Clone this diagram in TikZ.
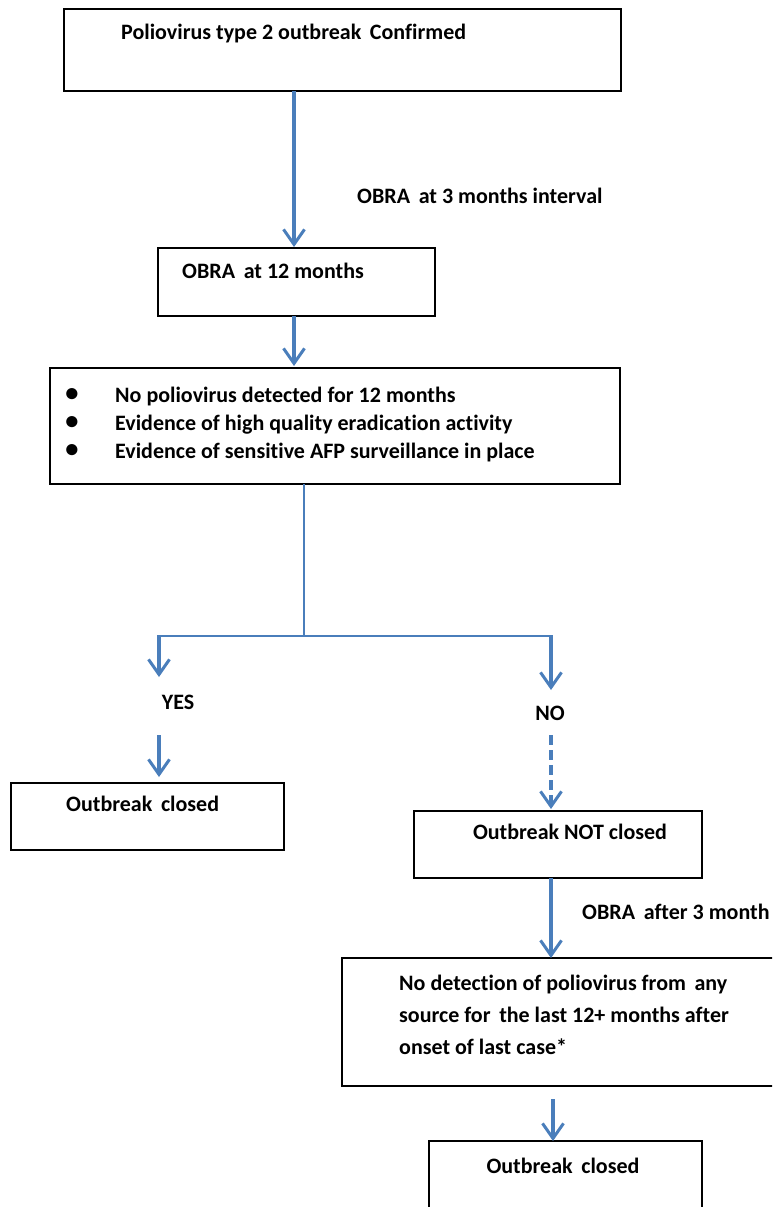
\documentclass[tikz,border=0pt]{standalone}
\usepackage{fontspec}
\setmainfont{Carlito}[Ligatures=NoCommon]
\usetikzlibrary{arrows.meta}
\definecolor{flowblue}{HTML}{4A7EBB}
% keeps "t" and "i" as separate glyphs
\newcommand{\tisplit}{\kern0pt{}}
\begin{document}
\begin{tikzpicture}[x=1pt,y=-1pt,
  box/.style={draw=black, line width=1.5pt, inner sep=0pt, outer sep=0pt, anchor=north west},
  txt/.style={font=\fontsize{22}{26}\selectfont\bfseries, inner sep=0pt, anchor=base west},
  arr/.style={draw=flowblue, line width=3.2pt, -{Straight Barb[length=15pt,width=21pt,line width=3pt]}},
  dasharr/.style={arr, dash pattern=on 10pt off 5pt},
  branch/.style={draw=flowblue, line width=2.2pt},
  stem/.style={draw=flowblue, line width=1.6pt},
]
\useasboundingbox (0,0) rectangle (772,1207);
\clip (0,0) rectangle (772,1207);

% boxes
\node[box, minimum width=557pt, minimum height=82pt] (confirmed) at (64,9) {};
\node[box, minimum width=277pt, minimum height=68pt] (obra12) at (158,248) {};
\node[box, minimum width=570pt, minimum height=116pt] (criteria) at (50,368) {};
\node[box, minimum width=273pt, minimum height=67pt] (closedA) at (11,783) {};
\node[box, minimum width=288pt, minimum height=67pt] (notclosed) at (414,811) {};
\node[box, minimum width=460pt, minimum height=128pt] (nodetect) at (342,958) {};
\node[box, minimum width=273pt, minimum height=100pt] (closedB) at (429,1141) {};

% texts
\node[txt] (t1) at (121,40) {Poliovirus type 2 outbreak\, Confirmed};
\node[txt] (l1) at (357,203) {OBRA\, at 3 months interval};
\node[txt] (t2) at (182,278) {OBRA\, at 12 months};
\node[txt, anchor=base, scale=1.2] (bu1) at (72,401) {•};
\node[txt, anchor=base, scale=1.2] (bu2) at (72,429) {•};
\node[txt, anchor=base, scale=1.2] (bu3) at (72,457) {•};
\node[txt] (c1) at (115,402) {No poliovirus detected for 12 months};
\node[txt] (c2) at (115,430) {Evidence of high quality eradicat\tisplit ion activ\tisplit ity};
\node[txt] (c3) at (115,458) {Evidence of sensit\tisplit ive AFP surveillance in place};
\node[txt, anchor=base] (yes) at (178,709) {YES};
\node[txt, anchor=base] (no) at (550,720) {NO};
\node[txt] (t4) at (66,811) {Outbreak\, closed};
\node[txt, anchor=base] (t5) at (570,839) {Outbreak NOT closed};
\node[txt] (l2) at (582,919) {OBRA\, after 3 month};
\node[txt] (d1) at (399,990) {No detect\tisplit ion of poliovirus from\, any};
\node[txt] (d2) at (399,1022) {source for\, the last 12+ months after};
\node[txt] (d3) at (399,1054) {onset of last case*};
\node[txt, anchor=base] (t6) at (563,1173) {Outbreak\, closed};

% connector columns and junction
\coordinate (colA) at (294,0);
\coordinate (colB) at (304,0);
\coordinate (jm) at (304,636);
\coordinate (jl) at (159,636);
\coordinate (jr) at (551,636);
\coordinate (yesTip) at (159,677);
\coordinate (noTip) at (551,690);
\coordinate (yesOut) at (159,735);
\coordinate (noOut) at (551,735);
\coordinate (colC) at (551,0);
\coordinate (colD) at (553,0);
\coordinate (dOut) at (553,1099);

% connectors
\draw[arr] (confirmed.south -| colA) -- ([yshift=1pt]obra12.north -| colA);
\draw[arr] (obra12.south -| colA) -- ([yshift=2pt]criteria.north -| colA);
\draw[stem] (criteria.south -| colB) -- (jm);
\draw[branch] (jl) -- (jr);
\draw[arr] ([yshift=1pt]jl) -- (yesTip);
\draw[arr] ([yshift=1pt]jr) -- (noTip);
\draw[arr] (yesOut) -- ([yshift=6pt]closedA.north -| yesOut);
\draw[dasharr] (noOut) -- ([yshift=2pt]notclosed.north -| noOut);
\draw[arr] (notclosed.south -| colC) -- (nodetect.north -| colC);
\draw[arr] (dOut) -- (closedB.north -| dOut);
\end{tikzpicture}
\end{document}
